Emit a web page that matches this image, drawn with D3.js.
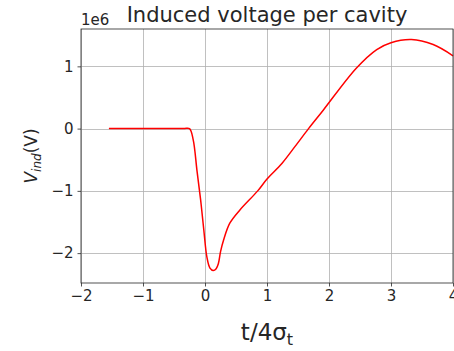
<!DOCTYPE html>
<html>
<head>
<meta charset="utf-8">
<script src="https://cdn.jsdelivr.net/npm/d3@7"></script>
<style>
  body { margin: 0; background: #fff; }
  svg { display: block; font-family: "DejaVu Sans", sans-serif; }
</style>
</head>
<body>
<script>
// tiempo normalizado t/4sigma_t y voltaje inducido (en unidades de 1e6 V)
let tiempo = [-1.55, -0.35, -0.25, -0.19, -0.13, -0.07, -0.02, 0.03, 0.08, 0.135, 0.18, 0.215, 0.25, 0.30, 0.40, 0.56, 0.85, 1.0, 1.24, 1.45, 1.67, 1.91, 2.44, 2.77, 3.0, 3.33, 3.68, 4.0];
let voltaje = [0, 0, 0, -0.18, -0.67, -1.15, -1.62, -2.06, -2.24, -2.28, -2.25, -2.17, -1.98, -1.79, -1.52, -1.31, -1.0, -0.81, -0.56, -0.29, 0, 0.30, 0.97, 1.27, 1.38, 1.43, 1.35, 1.17];
let ticksX = [-2, -1, 0, 1, 2, 3, 4];
let ticksY = [-2, -1, 0, 1];

let w = 454;
let h = 351;
let m = { left: 81, right: 1, top: 29, bottom: 68 };

let x = d3.scaleLinear().domain([-2, 4]).range([m.left, w - m.right]);
let y = d3.scaleLinear().domain([-2.48, 1.60]).range([h - m.bottom, m.top]);

let svg = d3.select('body')
    .append('svg')
    .attr('width', w)
    .attr('height', h);

// grilla
svg.append('g')
    .selectAll('line.gx')
    .data(ticksX)
    .enter().append('line')
    .attr('x1', d => Math.round(x(d)) + 0.5)
    .attr('x2', d => Math.round(x(d)) + 0.5)
    .attr('y1', m.top)
    .attr('y2', h - m.bottom)
    .attr('stroke', '#b0b0b0')
    .attr('stroke-width', 0.8);

svg.append('g')
    .selectAll('line.gy')
    .data(ticksY)
    .enter().append('line')
    .attr('y1', d => Math.round(y(d)) + 0.5)
    .attr('y2', d => Math.round(y(d)) + 0.5)
    .attr('x1', m.left)
    .attr('x2', w - m.right)
    .attr('stroke', '#b0b0b0')
    .attr('stroke-width', 0.8);

// curva
let linea = d3.line()
    .x((d, i) => x(tiempo[i]))
    .y(d => y(d))
    .curve(d3.curveCatmullRom.alpha(0.5));

svg.append('path')
    .datum(voltaje)
    .attr('d', linea)
    .attr('fill', 'none')
    .attr('stroke', '#ff0000')
    .attr('stroke-width', 1.5);

// ejes
let ejeX = svg.append('g')
    .attr('transform', `translate(0,${h - m.bottom})`)
    .call(d3.axisBottom(x).tickValues(ticksX).tickSize(3.5).tickPadding(4)
        .tickFormat(d => d < 0 ? '\u2212' + Math.abs(d) : d));
let ejeY = svg.append('g')
    .attr('transform', `translate(${m.left},0)`)
    .call(d3.axisLeft(y).tickValues(ticksY).tickSize(3.5).tickPadding(4)
        .tickFormat(d => d < 0 ? '\u2212' + Math.abs(d) : d));

[ejeX, ejeY].forEach(g => {
    g.select('.domain').remove();
    g.selectAll('text')
        .style('font-family', '"DejaVu Sans", sans-serif')
        .style('font-size', '15px')
        .attr('fill', '#262626');
    g.selectAll('line').attr('stroke', '#262626').attr('stroke-width', 0.8);
});

// marco
svg.append('rect')
    .attr('x', m.left)
    .attr('y', m.top)
    .attr('width', w - m.right - m.left)
    .attr('height', h - m.bottom - m.top)
    .attr('fill', 'none')
    .attr('stroke', '#262626')
    .attr('stroke-width', 0.8);

// textos
svg.append('text')
    .attr('x', (m.left + w - m.right) / 2)
    .attr('y', 22)
    .attr('text-anchor', 'middle')
    .style('font-size', '21px')
    .attr('fill', '#262626')
    .text('Induced voltage per cavity');

svg.append('text')
    .attr('x', m.left)
    .attr('y', 25)
    .style('font-size', '15px')
    .attr('fill', '#262626')
    .text('1e6');

let xl = svg.append('text')
    .attr('x', (m.left + w - m.right) / 2)
    .attr('y', 340)
    .attr('text-anchor', 'middle')
    .style('font-size', '23px')
    .attr('fill', '#262626');
xl.append('tspan').text('t/4\u03c3');
xl.append('tspan').attr('dy', 5).style('font-size', '16px').text('t');

let yl = svg.append('text')
    .attr('transform', `translate(37,${(m.top + h - m.bottom) / 2}) rotate(-90)`)
    .attr('text-anchor', 'middle')
    .style('font-size', '17px')
    .attr('fill', '#262626');
yl.append('tspan').style('font-style', 'italic').text('V');
yl.append('tspan').attr('dy', 4).style('font-style', 'italic').style('font-size', '12px').text('ind');
yl.append('tspan').attr('dy', -4).text('(V)');
</script>
</body>
</html>
